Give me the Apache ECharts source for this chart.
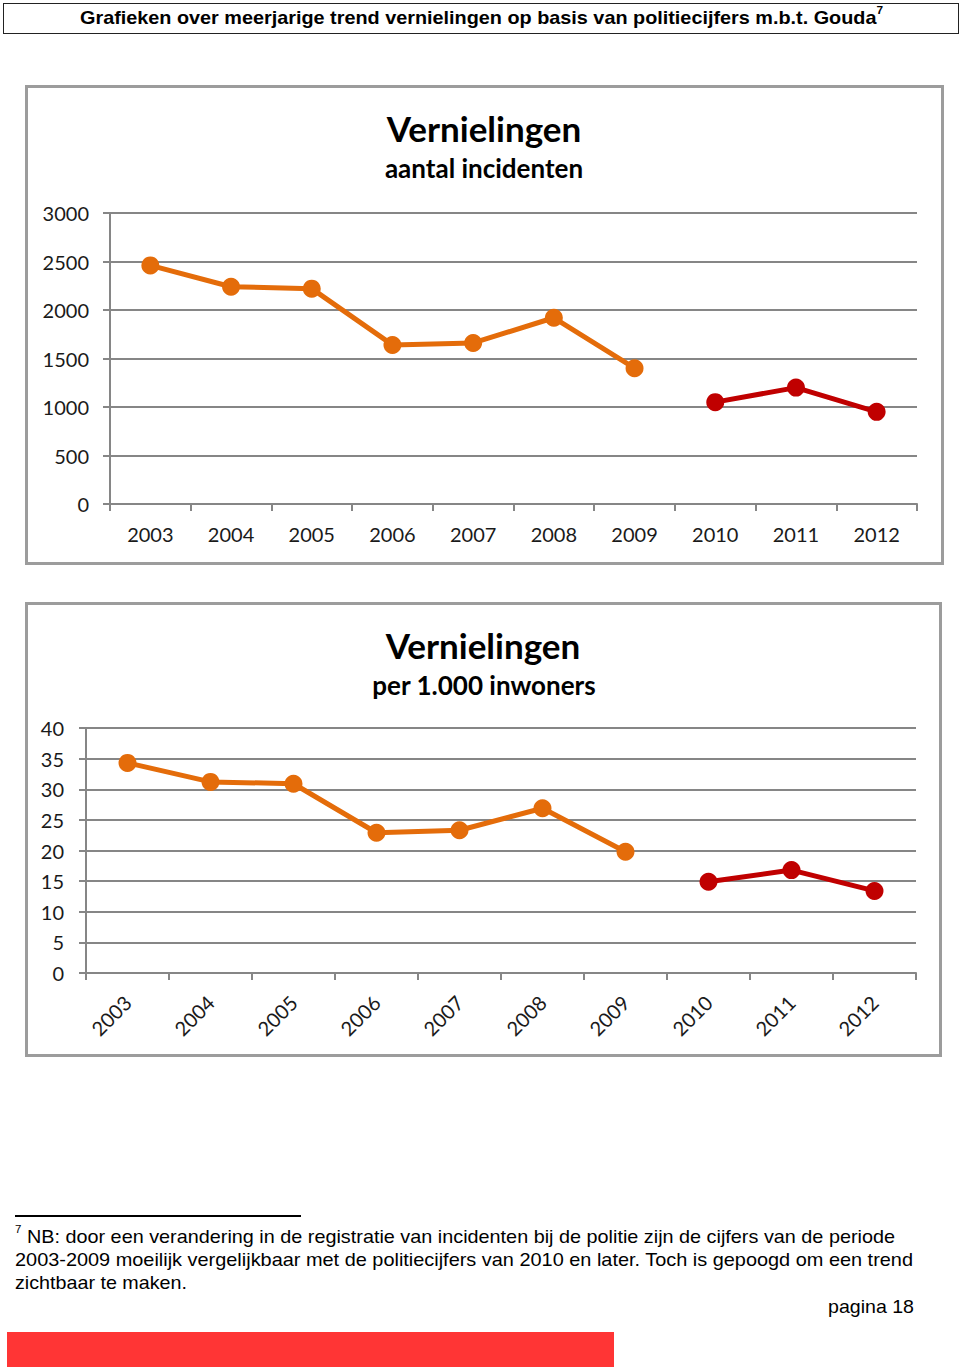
<!DOCTYPE html>
<html><head><meta charset="utf-8">
<script src="https://cdn.jsdelivr.net/npm/echarts@6/dist/echarts.min.js"></script>
<style>
html,body{margin:0;padding:0;background:#fff;width:960px;height:1372px;overflow:hidden;}
#chart{position:absolute;left:0;top:0;width:960px;height:1372px;}
.t{position:absolute;white-space:nowrap;font-family:"Liberation Sans",Arial,sans-serif;color:#000;transform-origin:0 0;line-height:20px;}
.t sup{font-size:11px;vertical-align:top;line-height:11px;position:relative;top:-3px;}
</style></head><body>
<div id="chart"></div>
<div style="position:absolute;left:3px;top:3px;width:956px;height:31px;border:1.5px solid #222;box-sizing:border-box"></div>
<div class="t fit" data-w="803" style="left:80px;top:8px;font-size:18.5px;font-weight:bold">Grafieken over meerjarige trend vernielingen op basis van politiecijfers m.b.t. Gouda<sup style="font-size:11px">7</sup></div>
<div style="position:absolute;left:15px;top:1215px;width:286px;height:1.5px;background:#000"></div>
<div class="t fit" data-w="880" style="left:15px;top:1227px;font-size:19px"><sup>7</sup> NB: door een verandering in de registratie van incidenten bij de politie zijn de cijfers van de periode</div>
<div class="t fit" data-w="898" style="left:15px;top:1250px;font-size:19px">2003-2009 moeilijk vergelijkbaar met de politiecijfers van 2010 en later. Toch is gepoogd om een trend</div>
<div class="t fit" data-w="172" style="left:15px;top:1273px;font-size:19px">zichtbaar te maken.</div>
<div class="t fit" data-w="86" style="left:828px;top:1297px;font-size:19px">pagina 18</div>
<div style="position:absolute;left:7px;top:1332px;width:607px;height:35px;background:#ff3535"></div>
<script>
// ---- data ----
const years = ['2003','2004','2005','2006','2007','2008','2009','2010','2011','2012'];
const incidentsOld = [2460, 2240, 2220, 1640, 1660, 1920, 1400, null, null, null];
const incidentsNew = [null, null, null, null, null, null, null, 1050, 1200, 950];
const perThousandOld = [34.3, 31.2, 30.9, 22.9, 23.3, 26.9, 19.8, null, null, null];
const perThousandNew = [null, null, null, null, null, null, null, 14.9, 16.8, 13.4];
const title1 = 'Vernielingen', sub1 = 'aantal incidenten';
const title2 = 'Vernielingen', sub2 = 'per 1.000 inwoners';

const ORANGE = '#e46c0a', RED = '#c00000', GRID = '#868686', FONT = 'Lato';

function axisCommon() {
  return {
    axisLine: {show: true, lineStyle: {color: GRID, width: 2}},
    axisTick: {show: true, length: 7, lineStyle: {color: GRID, width: 2}},
  };
}
function series(data, color, idx) {
  return {type: 'line', data: data, xAxisIndex: idx, yAxisIndex: idx, connectNulls: false,
    symbol: 'circle', symbolSize: 18, lineStyle: {color: color, width: 5},
    itemStyle: {color: color}, animation: false};
}
function txt(x, y, text, size) {
  return {type: 'text', x: x, y: y, style: {text: text, fontFamily: FONT, fontWeight: 'bold', fontSize: size,
    fill: '#000', align: 'center', textAlign: 'center', verticalAlign: 'middle', textVerticalAlign: 'middle'}};
}
const plain = v => String(v);
const chart = echarts.init(document.getElementById('chart'), null, {renderer: 'svg'});
chart.setOption({
  animation: false,
  grid: [
    {left: 110, top: 213, width: 807, height: 291},
    {left: 86, top: 728, width: 830, height: 245}
  ],
  xAxis: [
    Object.assign({type: 'category', gridIndex: 0, data: years, boundaryGap: true,
      axisLabel: {fontFamily: FONT, fontSize: 20, color: '#1a1a1a', margin: 20}}, axisCommon()),
    Object.assign({type: 'category', gridIndex: 1, data: years, boundaryGap: true,
      axisLabel: {fontFamily: FONT, fontSize: 20, color: '#1a1a1a', margin: 26, rotate: 45}}, axisCommon())
  ],
  yAxis: [
    Object.assign({type: 'value', gridIndex: 0, min: 0, max: 3000, interval: 500,
      axisLabel: {fontFamily: FONT, fontSize: 20, color: '#1a1a1a', margin: 21, formatter: plain},
      splitLine: {show: true, lineStyle: {color: GRID, width: 2}}}, axisCommon()),
    Object.assign({type: 'value', gridIndex: 1, min: 0, max: 40, interval: 5,
      axisLabel: {fontFamily: FONT, fontSize: 20, color: '#1a1a1a', margin: 22, formatter: plain},
      splitLine: {show: true, lineStyle: {color: GRID, width: 2}}}, axisCommon())
  ],
  series: [
    series(incidentsOld, ORANGE, 0), series(incidentsNew, RED, 0),
    series(perThousandOld, ORANGE, 1), series(perThousandNew, RED, 1)
  ],
  graphic: [
    {type: 'rect', shape: {x: 26.5, y: 86.5, width: 916, height: 477}, style: {fill: 'none', stroke: '#9c9c9c', lineWidth: 3}},
    {type: 'rect', shape: {x: 26.5, y: 603.5, width: 914, height: 452}, style: {fill: 'none', stroke: '#9c9c9c', lineWidth: 3}},
    txt(484, 128, title1, 35), txt(484, 168, sub1, 26),
    txt(483, 645, title2, 35), txt(484, 685, sub2, 26)
  ]
});
function fit() {
  document.querySelectorAll('.fit').forEach(el => {
    el.style.transform = 'none';
    const w = el.getBoundingClientRect().width;
    el.style.transform = 'scaleX(' + (parseFloat(el.dataset.w) / w) + ')';
  });
}
fit();
if (document.fonts && document.fonts.ready) document.fonts.ready.then(fit);
</script>
</body></html>
